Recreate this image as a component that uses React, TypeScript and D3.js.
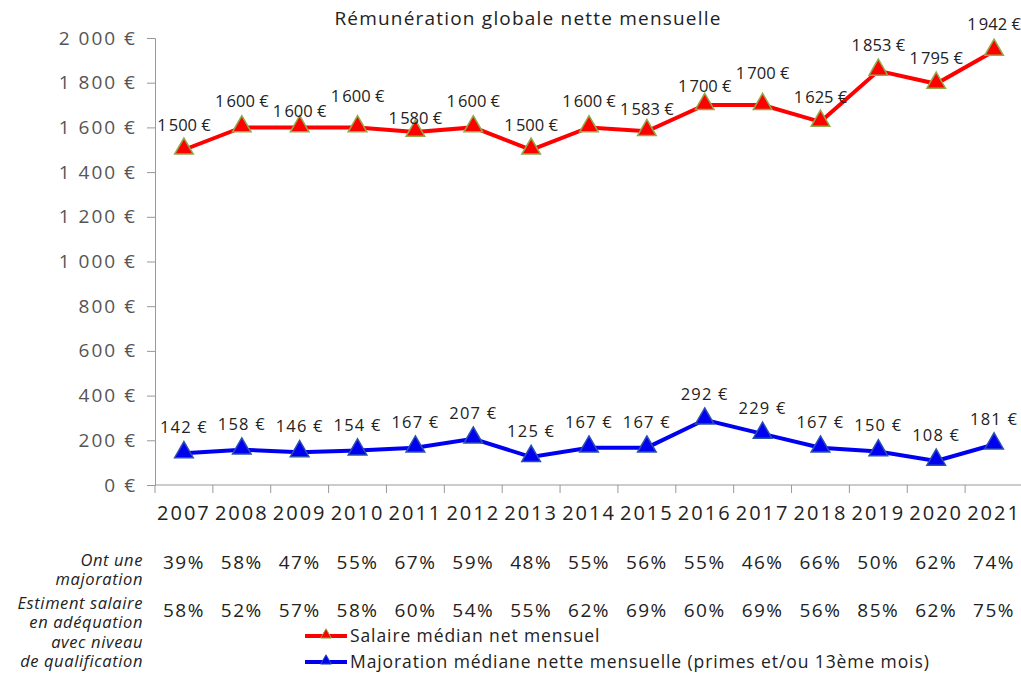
import React, { useEffect, useRef } from 'react';
import * as d3 from 'd3';

const years = ['2007', '2008', '2009', '2010', '2011', '2012', '2013', '2014', '2015', '2016', '2017', '2018', '2019', '2020', '2021'];
const salaire = [1500, 1600, 1600, 1600, 1580, 1600, 1500, 1600, 1583, 1700, 1700, 1625, 1853, 1795, 1942];
const majoration = [142, 158, 146, 154, 167, 207, 125, 167, 167, 292, 229, 167, 150, 108, 181];
const ontMajoration = ['39%', '58%', '47%', '55%', '67%', '59%', '48%', '55%', '56%', '55%', '46%', '66%', '50%', '62%', '74%'];
const estimentSalaire = ['58%', '52%', '57%', '58%', '60%', '54%', '55%', '62%', '69%', '60%', '69%', '56%', '85%', '62%', '75%'];
const yTicks = [0, 200, 400, 600, 800, 1000, 1200, 1400, 1600, 1800, 2000];

// vertical offsets of the red labels (as placed in the original)
const redLabelDy = [-25, -26, -16, -31, -14, -26, -25, -26, -22, -19, -32, -25, -26, -26, -27];

const W = 1021;
const H = 675;
const FONT = "'Open Sans', sans-serif";

const fmt = (v: number, sep = '\u202F') => {
  const s = String(v);
  return (s.length > 3 ? s.slice(0, s.length - 3) + sep + s.slice(-3) : s) + ' €';
};

export default function App() {
  const ref = useRef<SVGSVGElement>(null);

  useEffect(() => {
    const svg = d3.select(ref.current);
    svg.selectAll('*').remove();

    const left = 155, right = 1023, top = 38, bottom = 485;

    const x = d3.scaleBand().domain(years).range([left, right]);
    const y = d3.scaleLinear().domain([0, 2000]).range([bottom, top]);
    const cx = (d: string) => (x(d) as number) + x.bandwidth() / 2;

    svg.append('text')
      .attr('x', 528).attr('y', 25)
      .attr('text-anchor', 'middle')
      .style('font-family', FONT).style('font-size', '19px')
      .style('letter-spacing', '1.2px').attr('fill', '#222')
      .text('Rémunération globale nette mensuelle');

    // y axis
    const yAxis = svg.append('g')
      .attr('transform', `translate(${left},0)`)
      .call(d3.axisLeft(y).tickValues(yTicks).tickSize(8).tickPadding(10).tickFormat((d) => fmt(d as number, ' ')));
    yAxis.select('.domain').attr('stroke', '#999');
    yAxis.selectAll('.tick line').attr('stroke', '#999');
    yAxis.selectAll('.tick text')
      .style('font-family', FONT).style('font-size', '19px')
      .style('letter-spacing', '2px').attr('fill', '#555');

    // x axis
    const xAxis = svg.append('g').attr('transform', `translate(0,${bottom})`);
    xAxis.append('line').attr('x1', left).attr('x2', right).attr('stroke', '#999');
    xAxis.selectAll('line.t')
      .data(d3.range(years.length + 1))
      .enter().append('line')
      .attr('x1', (i) => left + i * x.step()).attr('x2', (i) => left + i * x.step())
      .attr('y1', 0).attr('y2', 8).attr('stroke', '#999');
    xAxis.selectAll('text')
      .data(years)
      .enter().append('text')
      .attr('x', (d) => cx(d)).attr('y', 35)
      .attr('text-anchor', 'middle')
      .style('font-family', FONT).style('font-size', '20px')
      .style('letter-spacing', '2px').attr('fill', '#222')
      .text((d) => d);

    const line = d3.line<number>()
      .x((_, i) => cx(years[i]))
      .y((d) => y(d));

    const tri = d3.symbol().type(d3.symbolTriangle).size(150);

    const drawSeries = (vals: number[], color: string, edge: string, dys: number[]) => {
      svg.append('path')
        .datum(vals)
        .attr('d', line)
        .attr('fill', 'none').attr('stroke', color).attr('stroke-width', 4);
      svg.selectAll(null)
        .data(vals)
        .enter().append('path')
        .attr('d', tri)
        .attr('transform', (d, i) => `translate(${cx(years[i])},${y(d) - 1})`)
        .attr('fill', color).attr('stroke', edge).attr('stroke-width', 1.5);
      svg.selectAll(null)
        .data(vals)
        .enter().append('text')
        .attr('x', (d, i) => cx(years[i]))
        .attr('y', (d, i) => y(d) + dys[i] + 6)
        .attr('text-anchor', 'middle')
        .style('font-family', FONT).style('font-size', '16.5px')
        .style('letter-spacing', '1.2px').attr('fill', '#222')
        .text((d) => fmt(d));
    };

    drawSeries(salaire, '#f00', '#8faa4a', redLabelDy);
    drawSeries(majoration, '#0000f0', '#2a50b0', majoration.map(() => -26));

    // table rows
    const rowLabel = (lines: string[], y0: number) => {
      const t = svg.append('text')
        .attr('text-anchor', 'end')
        .style('font-family', FONT).style('font-size', '16.5px').style('font-style', 'italic')
        .style('letter-spacing', '0.6px').attr('fill', '#222');
      lines.forEach((l, i) => {
        t.append('tspan').attr('x', 143).attr('y', y0 + i * 19.3).text(l);
      });
    };
    rowLabel(['Ont une', 'majoration'], 566);
    rowLabel(['Estiment salaire', 'en adéquation', 'avec niveau', 'de qualification'], 609);

    const rowValues = (vals: string[], yy: number) => {
      svg.selectAll(null)
        .data(vals)
        .enter().append('text')
        .attr('x', (d, i) => cx(years[i])).attr('y', yy)
        .attr('text-anchor', 'middle')
        .style('font-family', FONT).style('font-size', '19px')
        .style('letter-spacing', '1.5px').attr('fill', '#222')
        .text((d) => d);
    };
    rowValues(ontMajoration, 569);
    rowValues(estimentSalaire, 617);

    // legend
    const legend = [
      { label: 'Salaire médian net mensuel', color: '#f00', edge: '#8faa4a', y: 636 },
      { label: 'Majoration médiane nette mensuelle (primes et/ou 13ème mois)', color: '#0000f0', edge: '#2a50b0', y: 662 },
    ];
    legend.forEach((l) => {
      svg.append('line').attr('x1', 305).attr('x2', 347).attr('y1', l.y).attr('y2', l.y)
        .attr('stroke', l.color).attr('stroke-width', 4);
      svg.append('path').attr('d', d3.symbol().type(d3.symbolTriangle).size(50)())
        .attr('transform', `translate(326,${l.y - 1})`)
        .attr('fill', l.color).attr('stroke', l.edge);
      svg.append('text').attr('x', 350).attr('y', l.y + 6)
        .style('font-family', FONT).style('font-size', '17.5px')
        .style('letter-spacing', '0.9px').attr('fill', '#222')
        .text(l.label);
    });
  }, []);

  return (
    <svg ref={ref} width={W} height={H} style={{ position: 'absolute', left: 0, top: 0, background: '#fff' }} />
  );
}
